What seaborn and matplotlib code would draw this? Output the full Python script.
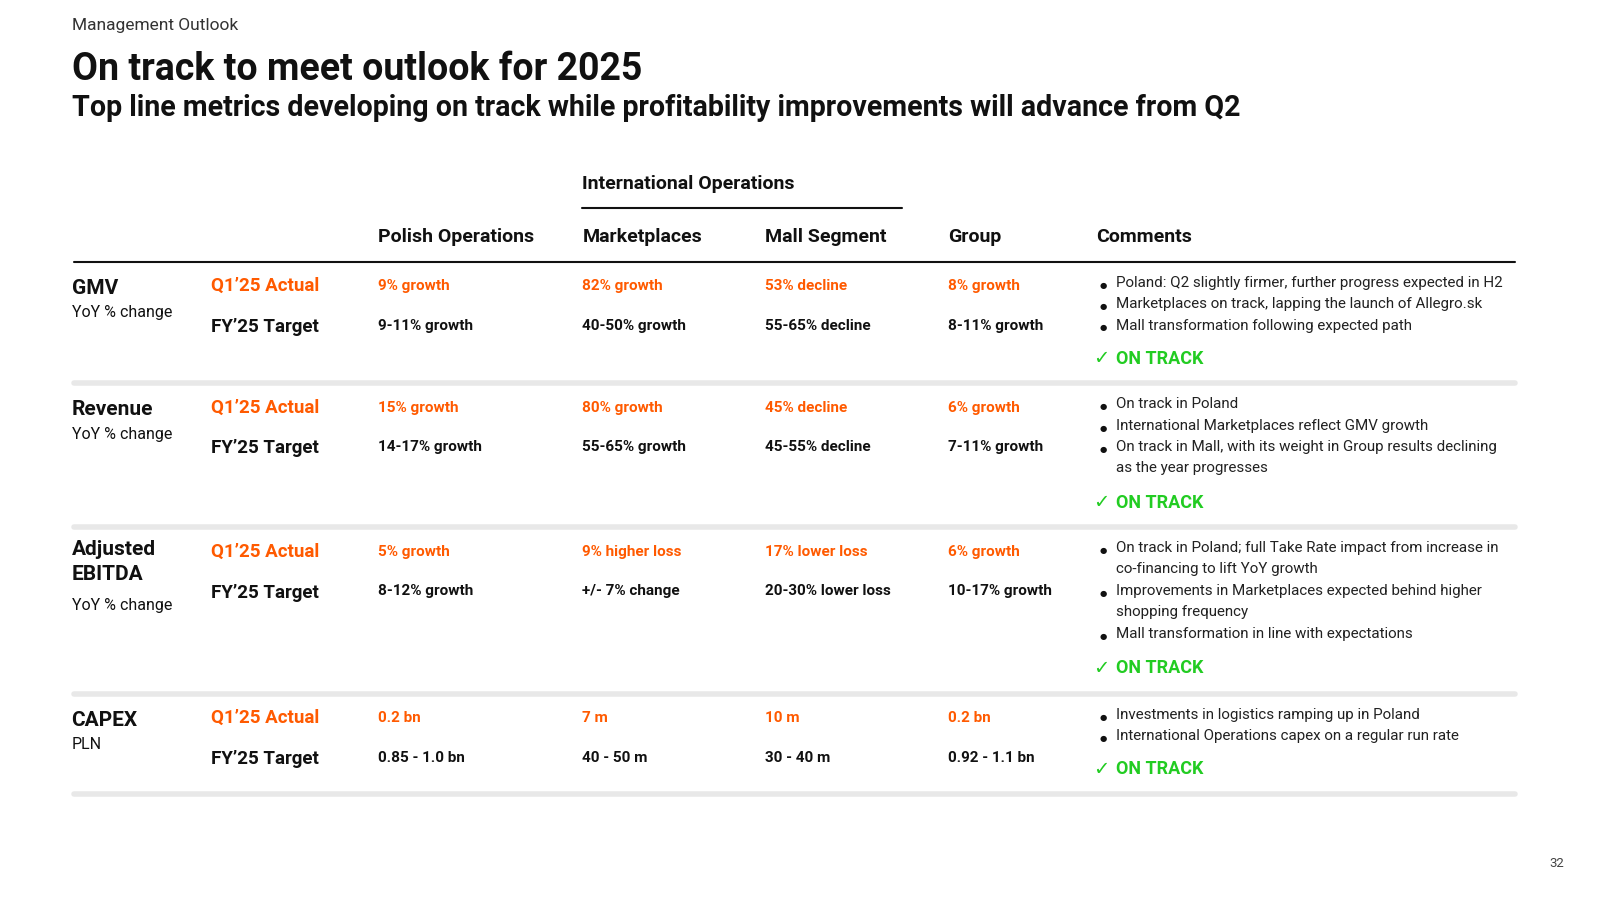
import matplotlib
matplotlib.use("Agg")
import matplotlib.pyplot as plt
import seaborn as sns

sns.set_theme(style="white", font="Roboto")

columns = ["Polish Operations", "Marketplaces", "Mall Segment", "Group"]
metrics = ["GMV", "Revenue", "Adjusted\nEBITDA", "CAPEX"]
metric_sub = ["YoY % change", "YoY % change", "YoY % change", "PLN"]
actuals = [
    ["9% growth", "82% growth", "53% decline", "8% growth"],
    ["15% growth", "80% growth", "45% decline", "6% growth"],
    ["5% growth", "9% higher loss", "17% lower loss", "6% growth"],
    ["0.2 bn", "7 m", "10 m", "0.2 bn"],
]
targets = [
    ["9-11% growth", "40-50% growth", "55-65% decline", "8-11% growth"],
    ["14-17% growth", "55-65% growth", "45-55% decline", "7-11% growth"],
    ["8-12% growth", "+/- 7% change", "20-30% lower loss", "10-17% growth"],
    ["0.85 - 1.0 bn", "40 - 50 m", "30 - 40 m", "0.92 - 1.1 bn"],
]
comments = [
    ["Poland: Q2 slightly firmer, further progress expected in H2",
     "Marketplaces on track, lapping the launch of Allegro.sk",
     "Mall transformation following expected path"],
    ["On track in Poland",
     "International Marketplaces reflect GMV growth",
     "On track in Mall, with its weight in Group results declining\nas the year progresses"],
    ["On track in Poland; full Take Rate impact from increase in\nco-financing to lift YoY growth",
     "Improvements in Marketplaces expected behind higher\nshopping frequency",
     "Mall transformation in line with expectations"],
    ["Investments in logistics ramping up in Poland",
     "International Operations capex on a regular run rate"],
]

ORANGE = "#FF5A00"
GREEN = "#22CC22"
BLACK = "#111111"

fig = plt.figure(figsize=(16, 9), dpi=100)
ax = fig.add_axes([0, 0, 1, 1])
ax.set_xlim(0, 1566)
ax.set_ylim(881, 0)
ax.axis("off")

ax.text(70, 25, "Management Outlook", fontsize=12.5, color="#333333", va="center")
ax.text(70, 68, "On track to meet outlook for 2025", fontsize=27, fontweight="bold", color=BLACK, va="center")
ax.text(70, 106, "Top line metrics developing on track while profitability improvements will advance from Q2",
        fontsize=20.6, fontweight="bold", color=BLACK, va="center")

ax.text(570, 180, "International Operations", fontsize=14, fontweight="bold", color=BLACK, va="center")
ax.plot([570, 883], [204, 204], color=BLACK, lw=1.5)

col_x = [370, 570, 749, 928]
for x, c in zip(col_x, columns):
    ax.text(x, 232, c, fontsize=14, fontweight="bold", color=BLACK, va="center")
ax.text(1073, 232, "Comments", fontsize=14, fontweight="bold", color=BLACK, va="center")
ax.plot([72, 1483], [256, 256], color=BLACK, lw=1.5)

row_y = [280, 399, 540, 703]
sep_y = [375, 516, 679, 777]
ontrack_y = [351, 492, 654, 753]
CFS = 10.9
for i in range(4):
    y = row_y[i]
    name = metrics[i]
    if "\n" in name:
        ax.text(70, y - 11, name, fontsize=15, fontweight="bold", color=BLACK, va="top", linespacing=1.35)
        sub_y = y + 53
    else:
        ax.text(70, y + 2, name, fontsize=15, fontweight="bold", color=BLACK, va="center")
        sub_y = y + 26
    ax.text(70, sub_y, metric_sub[i], fontsize=11.5, color=BLACK, va="center")
    ax.text(207, y, "Q1\u201925 Actual", fontsize=13.5, fontweight="bold", color=ORANGE, va="center")
    ax.text(207, y + 40, "FY\u201925 Target", fontsize=13.5, fontweight="bold", color=BLACK, va="center")
    for x, a, t in zip(col_x, actuals[i], targets[i]):
        ax.text(x, y, a, fontsize=11, fontweight="bold", color=ORANGE, va="center")
        ax.text(x, y + 39, t, fontsize=11, fontweight="bold", color=BLACK, va="center")
    cy = y - 1
    for c in comments[i]:
        ax.text(1080, cy, "\u25CF", fontsize=6, color=BLACK, va="center", ha="center", fontfamily="DejaVu Sans")
        ax.text(1092, cy - 9, c, fontsize=CFS, color="#222222", va="top", linespacing=1.6)
        cy += 21 * (c.count("\n") + 1)
    ax.text(1070, ontrack_y[i], "\u2713", fontsize=14, color=GREEN, va="center", fontfamily="DejaVu Sans")
    ax.text(1092, ontrack_y[i], "ON TRACK", fontsize=13, fontweight="bold", color=GREEN, va="center")
    ax.plot([72, 1483], [sep_y[i], sep_y[i]], color="#E8E8E8", lw=4)

ax.text(1524, 845, "32", fontsize=9.5, color="#444444", va="center", ha="center")

fig.savefig("out.png", dpi=100, facecolor="white")
